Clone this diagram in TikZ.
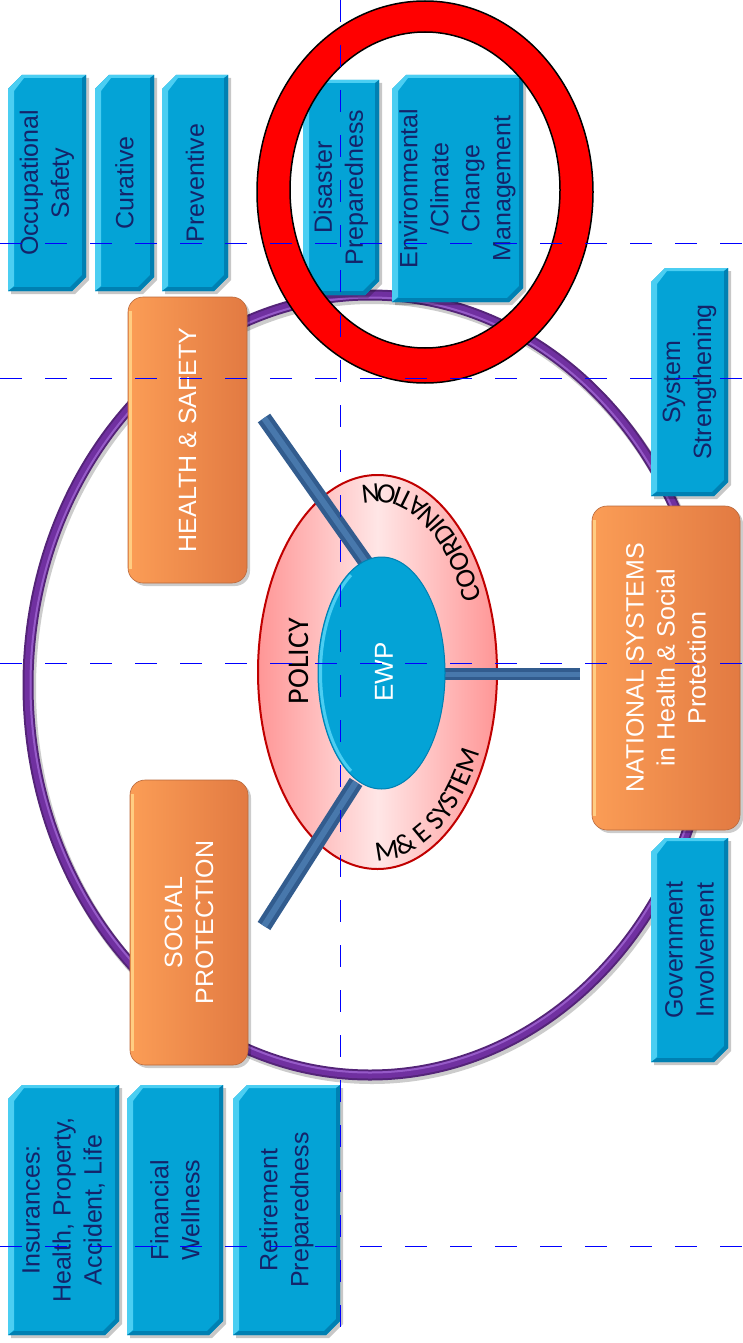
\documentclass[tikz,border=0pt]{standalone}
\usepackage{fontspec}
\setmainfont{Liberation Sans}
\newfontfamily\calfont{Carlito}
\usetikzlibrary{decorations.text}
\definecolor{boxblue}{RGB}{4,163,214}
\definecolor{boxlight}{RGB}{75,206,242}
\definecolor{boxdark}{RGB}{0,128,178}
\definecolor{navytext}{RGB}{20,35,105}
\definecolor{orangeL}{RGB}{251,157,86}
\definecolor{orangeR}{RGB}{226,122,66}
\definecolor{orangeEdge}{RGB}{185,105,60}
\definecolor{orangeStrip}{RGB}{255,205,130}
\definecolor{ringpurple}{RGB}{112,48,160}
\definecolor{ringlight}{RGB}{150,90,200}
\definecolor{pinkA}{RGB}{255,150,150}
\definecolor{pinkB}{RGB}{255,230,230}
\definecolor{pinkEdge}{RGB}{192,0,0}
\definecolor{barblue}{RGB}{50,92,142}
\definecolor{barlight}{RGB}{72,120,172}
\definecolor{guideblue}{RGB}{0,0,255}
\newcommand\bluebox[6]{%
  \fill[black,opacity=0.22] (#2+17,#3+3) -- (#4+3,#3+3) -- (#4+3,#5-11) -- (#4-11,#5+3) -- (#2+3,#5+3) -- (#2+3,#3+17) -- cycle;
  \fill[boxblue] (#2+14,#3) -- (#4,#3) -- (#4,#5-14) -- (#4-14,#5) -- (#2,#5) -- (#2,#3+14) -- cycle;
  \fill[boxlight] (#2,#3+14) -- (#2+14,#3) -- (#4,#3) -- (#4-3,#3+3) -- (#2+16,#3+3) -- (#2+6,#3+16) -- (#2+6,#5-5) -- (#2,#5) -- cycle;
  \fill[boxdark] (#4,#3) -- (#4,#5-14) -- (#4-14,#5) -- (#2,#5) -- (#2+6,#5-4) -- (#4-16,#5-4) -- (#4-4,#5-16) -- (#4-4,#3+3) -- cycle;
  \node[bluetxt] (#1) at ({(#2+#4)/2},{(#3+#5)/2}) {#6};
}
\newcommand\orangebox[6]{%
  \fill[black,opacity=0.2,rounded corners=15] (#2+3,#3+3) rectangle (#4+3,#5+3);
  \path[rounded corners=15,left color=orangeL,right color=orangeR,draw=orangeEdge,line width=0.6] (#2,#3) rectangle (#4,#5);
  \draw[orangeStrip,line width=2.5] (#2+2.5,#3+14) -- (#2+2.5,#5-14);
  \node[orangetxt] (#1) at ({(#2+#4)/2},{(#3+#5)/2}) {#6};
}
\begin{document}
\begin{tikzpicture}[x=1pt,y=-1pt,
  bluetxt/.style={rotate=90,align=center,text=navytext,font=\fontsize{25}{31}\selectfont,inner sep=0},
  orangetxt/.style={rotate=90,align=center,text=white,font=\fontsize{25}{31}\selectfont,inner sep=0},
  barstyle/.style={line width=15,barblue},
  barhi/.style={line width=6,barlight},
  guideline/.style={draw=guideblue,line width=1.2,dash pattern=on 22pt off 23pt}]
\useasboundingbox (0,0) rectangle (742,1343);
\fill[white] (0,0) rectangle (742,1343);
% purple ring
\draw[line width=12,black!20] (372,688) ellipse[x radius=342,y radius=390];
\draw[line width=11,ringpurple!75!black] (370,685) ellipse[x radius=342,y radius=390];
\draw[line width=7,ringpurple] (370,685) ellipse[x radius=342,y radius=390];
\draw[line width=2,ringlight] (370,685) ellipse[x radius=339.5,y radius=387.5];
% pink ellipse
\path[left color=pinkA,right color=pinkA,middle color=pinkB,draw=pinkEdge,line width=2] (377.5,672) ellipse[x radius=119.5,y radius=197];
% bars
\coordinate (b1a) at (367,564);
\coordinate (b1b) at (264,418);
\coordinate (b2a) at (356,782);
\coordinate (b2b) at (264,926);
\coordinate (b3a) at (440,674);
\coordinate (b3b) at (580,674);
\draw[barstyle] (b1a) -- (b1b);
\draw[barhi] (b1a) -- (b1b);
\draw[barstyle] (b2a) -- (b2b);
\draw[barhi] (b2a) -- (b2b);
\draw[barstyle,line width=12] (b3a) -- (b3b);
\draw[barhi,line width=5] (b3a) -- (b3b);
% EWP
\fill[boxblue,draw=boxdark,line width=1] (381.5,673) ellipse[x radius=63.5,y radius=116];
\draw[boxlight,line width=3] (381.5,673) ++(120:61 and 113) arc[start angle=120,end angle=240,x radius=61,y radius=113];
\node[rotate=90,text=white,font=\fontsize{26}{30}\selectfont] (ewp) at (384,672) {EWP};
\node[rotate=90,text=black,font=\calfont\fontsize{30}{32}\selectfont] (policy) at (299,661) {POLICY};
\path[decorate,decoration={text along path,text align=center,text={|\calfont\fontsize{28}{28}\selectfont|COORDINATION}}]
  (377.5,672) ++(-12:113 and 188) arc[start angle=-12,end angle=-115,x radius=113,y radius=188];
\path[decorate,decoration={text along path,text align=center,text={|\calfont\fontsize{28}{28}\selectfont|M{\&} E SYSTEM}}]
  (377.5,672) ++(105:113 and 188) arc[start angle=105,end angle=16,x radius=113,y radius=188];
% orange boxes
\orangebox{hs}{128}{297}{247}{583}{HEALTH \& SAFETY}
\orangebox{sp}{130}{780}{248}{1065}{SOCIAL\\PROTECTION}
\orangebox{nat}{592}{506}{740}{830}{NATIONAL SYSTEMS\\in Health \& Social\\Protection}
% blue boxes
\bluebox{occ}{8}{75}{86}{291}{Occupational\\Safety}
\bluebox{cur}{95}{75}{154}{291}{Curative}
\bluebox{prev}{162}{75}{228}{291}{Preventive}
\bluebox{dis}{303}{80}{379}{295}{Disaster\\Preparedness}
\bluebox{env}{392}{75}{523}{302}{Environmental\\/Climate\\Change\\Management}
\bluebox{sys}{651}{268}{728}{496}{System\\Strengthening}
\bluebox{gov}{651}{838}{728}{1062}{Government\\Involvement}
\bluebox{ins}{8}{1085}{119}{1335}{Insurances:\\Health, Property,\\Accident, Life}
\bluebox{fin}{127}{1085}{223}{1335}{Financial\\Wellness}
\bluebox{ret}{233}{1085}{340}{1335}{Retirement\\Preparedness}
% red ring
\path[fill=red,draw=black,line width=1.5,even odd rule] (425,192) ellipse[x radius=168,y radius=191] (425,190) ellipse[x radius=135,y radius=158];
% guide lines
\draw[guideline] (0,243.5) -- (742,243.5);
\draw[guideline] (0,378.5) -- (742,378.5);
\draw[guideline] (0,663.5) -- (742,663.5);
\draw[guideline] (0,1246.5) -- (742,1246.5);
\draw[guideline] (340.5,0) -- (340.5,1328);
\end{tikzpicture}
\end{document}
